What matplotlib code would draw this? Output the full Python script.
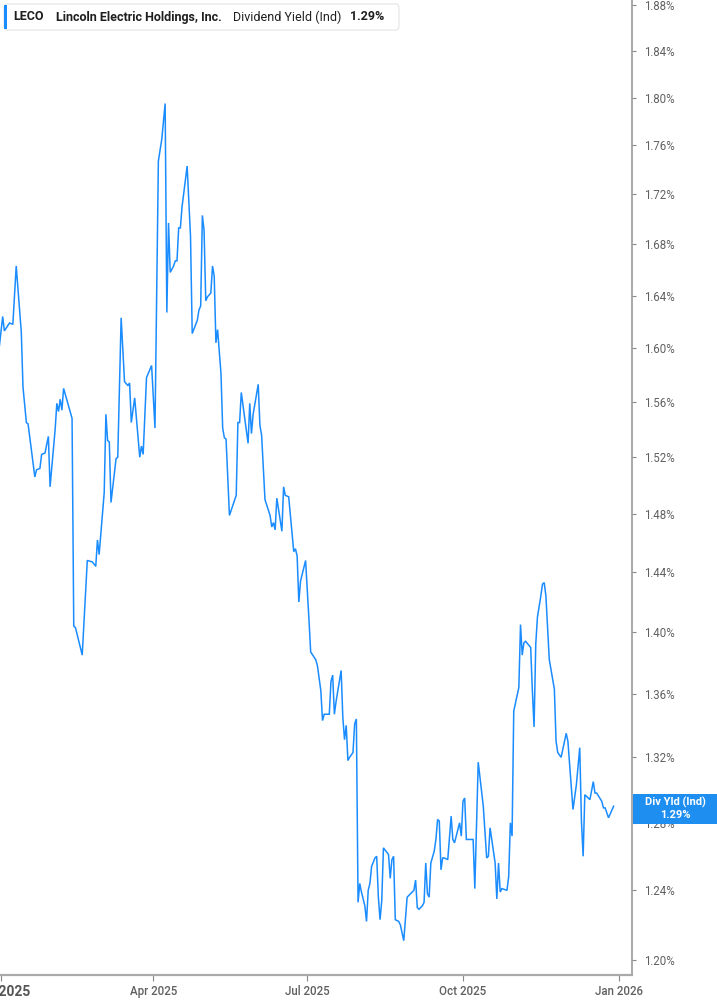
import matplotlib.pyplot as plt
import matplotlib.dates as mdates
import matplotlib.patches as patches
import pandas as pd
from matplotlib.ticker import FixedLocator, FuncFormatter, NullLocator

plt.rcParams['font.family'] = ['Roboto', 'DejaVu Sans']

# LECO dividend yield (%)
dates = [
    '2024-12-31', '2025-01-02', '2025-01-03', '2025-01-06', '2025-01-08', '2025-01-10',
    '2025-01-13', '2025-01-14', '2025-01-16', '2025-01-17', '2025-01-21', '2025-01-22',
    '2025-01-24', '2025-01-25', '2025-01-27', '2025-01-29', '2025-01-30', '2025-02-02',
    '2025-02-03', '2025-02-04', '2025-02-05', '2025-02-06', '2025-02-07', '2025-02-12',
    '2025-02-13', '2025-02-14', '2025-02-18', '2025-02-21', '2025-02-24', '2025-02-26',
    '2025-02-27', '2025-02-28', '2025-03-03', '2025-03-04', '2025-03-05', '2025-03-06',
    '2025-03-07', '2025-03-10', '2025-03-11', '2025-03-13', '2025-03-15', '2025-03-17',
    '2025-03-18', '2025-03-19', '2025-03-21', '2025-03-24', '2025-03-25', '2025-03-26',
    '2025-03-28', '2025-03-31', '2025-04-02', '2025-04-04', '2025-04-06', '2025-04-07',
    '2025-04-08', '2025-04-09', '2025-04-10', '2025-04-11', '2025-04-13', '2025-04-14',
    '2025-04-15', '2025-04-16', '2025-04-17', '2025-04-18', '2025-04-21', '2025-04-23',
    '2025-04-24', '2025-04-27', '2025-04-28', '2025-04-29', '2025-04-30', '2025-05-01',
    '2025-05-02', '2025-05-03', '2025-05-05', '2025-05-06', '2025-05-07', '2025-05-08',
    '2025-05-09', '2025-05-11', '2025-05-12', '2025-05-13', '2025-05-14', '2025-05-16',
    '2025-05-18', '2025-05-20', '2025-05-21', '2025-05-22', '2025-05-23', '2025-05-27',
    '2025-05-28', '2025-05-29', '2025-05-30', '2025-06-02', '2025-06-03', '2025-06-04',
    '2025-06-06', '2025-06-09', '2025-06-10', '2025-06-11', '2025-06-12', '2025-06-13',
    '2025-06-16', '2025-06-17', '2025-06-18', '2025-06-20', '2025-06-23', '2025-06-24',
    '2025-06-25', '2025-06-26', '2025-06-27', '2025-06-30', '2025-07-02', '2025-07-03',
    '2025-07-06', '2025-07-07', '2025-07-09', '2025-07-10', '2025-07-11', '2025-07-14',
    '2025-07-15', '2025-07-16', '2025-07-17', '2025-07-18', '2025-07-21', '2025-07-22',
    '2025-07-23', '2025-07-24', '2025-07-25', '2025-07-26', '2025-07-28', '2025-07-29',
    '2025-07-30', '2025-07-31', '2025-08-01', '2025-08-02', '2025-08-04', '2025-08-05',
    '2025-08-06', '2025-08-07', '2025-08-08', '2025-08-10', '2025-08-11', '2025-08-12',
    '2025-08-13', '2025-08-14', '2025-08-15', '2025-08-18', '2025-08-19', '2025-08-20',
    '2025-08-21', '2025-08-22', '2025-08-24', '2025-08-25', '2025-08-27', '2025-08-29',
    '2025-08-31', '2025-09-02', '2025-09-03', '2025-09-04', '2025-09-05', '2025-09-07',
    '2025-09-08', '2025-09-09', '2025-09-10', '2025-09-11', '2025-09-12', '2025-09-14',
    '2025-09-15', '2025-09-16', '2025-09-17', '2025-09-18', '2025-09-19', '2025-09-20',
    '2025-09-22', '2025-09-24', '2025-09-25', '2025-09-26', '2025-09-29', '2025-09-30',
    '2025-10-01', '2025-10-02', '2025-10-03', '2025-10-07', '2025-10-08', '2025-10-10',
    '2025-10-13', '2025-10-15', '2025-10-16', '2025-10-17', '2025-10-20', '2025-10-21',
    '2025-10-22', '2025-10-23', '2025-10-24', '2025-10-27', '2025-10-28', '2025-10-29',
    '2025-10-30', '2025-10-31', '2025-11-03', '2025-11-04', '2025-11-05', '2025-11-06',
    '2025-11-07', '2025-11-10', '2025-11-11', '2025-11-12', '2025-11-13', '2025-11-14',
    '2025-11-16', '2025-11-17', '2025-11-18', '2025-11-19', '2025-11-21', '2025-11-24',
    '2025-11-25', '2025-11-26', '2025-11-28', '2025-12-01', '2025-12-02', '2025-12-05',
    '2025-12-07', '2025-12-09', '2025-12-10', '2025-12-11', '2025-12-12', '2025-12-15',
    '2025-12-17', '2025-12-18', '2025-12-19', '2025-12-22', '2025-12-23', '2025-12-24',
    '2025-12-26', '2025-12-29',
]
yld = [
    1.601, 1.624, 1.613, 1.619, 1.618, 1.663,
    1.612, 1.571, 1.545, 1.544, 1.506, 1.511,
    1.512, 1.522, 1.523, 1.535, 1.499, 1.540,
    1.559, 1.553, 1.562, 1.554, 1.570, 1.548,
    1.404, 1.403, 1.385, 1.448, 1.447, 1.444,
    1.462, 1.452, 1.495, 1.551, 1.532, 1.531,
    1.488, 1.519, 1.520, 1.623, 1.575, 1.572,
    1.574, 1.545, 1.563, 1.520, 1.528, 1.522,
    1.578, 1.587, 1.541, 1.747, 1.765, 1.780,
    1.795, 1.627, 1.697, 1.658, 1.663, 1.667,
    1.667, 1.693, 1.693, 1.710, 1.743, 1.686,
    1.611, 1.621, 1.629, 1.632, 1.703, 1.691,
    1.636, 1.639, 1.642, 1.663, 1.655, 1.604,
    1.614, 1.581, 1.541, 1.534, 1.533, 1.479,
    1.486, 1.493, 1.545, 1.545, 1.567, 1.530,
    1.559, 1.537, 1.551, 1.573, 1.543, 1.536,
    1.490, 1.479, 1.471, 1.474, 1.469, 1.491,
    1.468, 1.499, 1.493, 1.492, 1.454, 1.456,
    1.451, 1.420, 1.434, 1.448, 1.408, 1.387,
    1.382, 1.378, 1.362, 1.343, 1.347, 1.347,
    1.368, 1.372, 1.347, 1.355, 1.375, 1.345,
    1.331, 1.340, 1.318, 1.320, 1.323, 1.341,
    1.344, 1.233, 1.244, 1.239, 1.231, 1.222,
    1.240, 1.244, 1.254, 1.259, 1.260, 1.236,
    1.223, 1.234, 1.265, 1.261, 1.247, 1.258,
    1.260, 1.223, 1.222, 1.220, 1.211, 1.236,
    1.238, 1.240, 1.246, 1.230, 1.229, 1.231,
    1.233, 1.256, 1.238, 1.236, 1.256, 1.263,
    1.270, 1.282, 1.281, 1.252, 1.259, 1.259,
    1.258, 1.284, 1.270, 1.268, 1.280, 1.272,
    1.293, 1.295, 1.270, 1.270, 1.241, 1.317,
    1.290, 1.259, 1.260, 1.277, 1.256, 1.235,
    1.256, 1.239, 1.241, 1.240, 1.248, 1.280,
    1.272, 1.349, 1.364, 1.405, 1.385, 1.393,
    1.394, 1.390, 1.362, 1.339, 1.392, 1.410,
    1.424, 1.432, 1.433, 1.424, 1.382, 1.363,
    1.330, 1.323, 1.320, 1.335, 1.330, 1.288,
    1.303, 1.326, 1.281, 1.260, 1.297, 1.294,
    1.305, 1.298, 1.298, 1.293, 1.289, 1.289,
    1.283, 1.290,
]

ticker = 'LECO'
company = 'Lincoln Electric Holdings, Inc.'
metric = 'Dividend Yield (Ind)'
tag_name = 'Div Yld (Ind)'
last_yld = 1.29
y_ticks = [1.20, 1.24, 1.28, 1.32, 1.36, 1.40, 1.44, 1.48, 1.52,
           1.56, 1.60, 1.64, 1.68, 1.72, 1.76, 1.80, 1.84, 1.88]
x_ticks = ['2025-01-01', '2025-04-01', '2025-07-01', '2025-10-01', '2026-01-01']

blue = '#1a8cff'
W, H = 717, 1005

fig = plt.figure(figsize=(W / 100, H / 100), dpi=100)
ax = fig.add_axes([0, 30 / H, 632 / W, 975 / H])
ax.plot(pd.to_datetime(dates), yld, color=blue, lw=1.1, solid_joinstyle='miter')

ax.set_yscale('log')
ax.set_ylim(1.1916, 1.8845)
ax.set_xlim(pd.Timestamp('2024-12-31 10:00'), pd.Timestamp('2026-01-08 21:00'))

ax.yaxis.set_major_locator(FixedLocator(y_ticks))
ax.yaxis.set_minor_locator(NullLocator())
ax.yaxis.set_major_formatter(FuncFormatter(lambda v, p: f'{v:.2f}%'))
ax.yaxis.tick_right()
ax.xaxis.set_major_locator(FixedLocator(mdates.date2num(pd.to_datetime(x_ticks))))
ax.xaxis.set_major_formatter(mdates.DateFormatter('%b %Y'))

ax.tick_params(axis='y', length=3, width=0.8, color='#888888', pad=6,
               labelsize=8.3, labelcolor='#606060')
ax.tick_params(axis='x', length=4, width=0.8, color='#888888', pad=3,
               labelsize=8.3, labelcolor='#606060')
for lab in ax.get_xticklabels():
    lab.set_fontweight('medium')
first = ax.get_xticklabels()[0]
first.set_fontsize(10)
first.set_fontweight('bold')
first.set_color('#555555')

for s in ['left', 'top']:
    ax.spines[s].set_visible(False)
ax.spines['right'].set_color('#9a9a9a')
ax.spines['right'].set_linewidth(1.2)
ax.spines['bottom'].set_color('#aaaaaa')
ax.spines['bottom'].set_linewidth(1.6)

# header box
fig.patches.append(patches.FancyBboxPatch(
    (4 / W, 1 - 30 / H), 395 / W, 26 / H, boxstyle='round,pad=0,rounding_size=0.004',
    transform=fig.transFigure, fc='white', ec='#e4e4e4', lw=0.8))
fig.patches.append(patches.Rectangle(
    (4 / W, 1 - 29 / H), 3 / W, 24 / H, transform=fig.transFigure, fc=blue, ec='none'))
hy = 1 - 17 / H
fig.text(13 / W, hy, ticker, fontsize=9, fontweight='bold', color='#1f1f1f', va='center')
fig.text(56 / W, hy, company, fontsize=9, fontweight='bold', color='#1f1f1f', va='center')
fig.text(233 / W, hy, metric, fontsize=9, color='#1f1f1f', va='center')
fig.text(350 / W, hy, f'{last_yld:.2f}%', fontsize=9, fontweight='bold', color='#1f1f1f',
         va='center')

# last value tag on the right axis
fig.patches.append(patches.Rectangle(
    (633 / W, 1 - 824 / H), 84 / W, 30 / H, transform=fig.transFigure, fc='#1f8ef1',
    ec='none', zorder=5))
fig.text(675 / W, 1 - 802 / H, tag_name, fontsize=8, fontweight='bold', color='white',
         ha='center', va='center', zorder=6)
fig.text(675 / W, 1 - 815 / H, f'{last_yld:.2f}%', fontsize=8, fontweight='bold',
         color='white', ha='center', va='center', zorder=6)

fig.savefig('out.png', dpi=100, facecolor='white')
